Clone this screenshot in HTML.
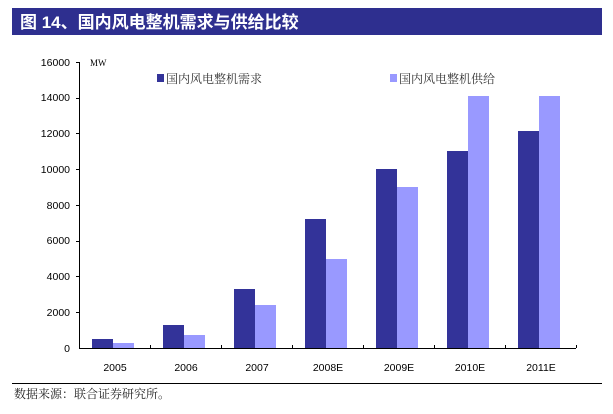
<!DOCTYPE html>
<html><head><meta charset="utf-8"><style>
body{margin:0;background:#fff;width:613px;height:409px;overflow:hidden}
</style></head><body>
<svg width="613" height="409" xmlns="http://www.w3.org/2000/svg" font-family="'Liberation Serif','Noto Serif CJK SC',serif">
<rect x="12" y="8" width="590" height="27" fill="#2e2f8f"/>
<text x="20" y="28" fill="#fff" font-size="17" font-weight="bold" font-family="'Liberation Sans','Noto Sans CJK SC',sans-serif">图 14、国内风电整机需求与供给比较</text>
<g font-size="10.5" fill="#000" text-anchor="end" font-family="'Liberation Sans',sans-serif">
<text x="70" y="66">16000</text><text x="70" y="101">14000</text><text x="70" y="137">12000</text>
<text x="70" y="173">10000</text><text x="70" y="209">8000</text><text x="70" y="244">6000</text>
<text x="70" y="280">4000</text><text x="70" y="316">2000</text><text x="70" y="352">0</text>
</g>
<text x="90" y="66" font-size="9">MW</text>
<g stroke="#000" stroke-width="1">
<line x1="79.5" y1="62" x2="79.5" y2="348"/>
<line x1="79" y1="348.5" x2="576" y2="348.5"/>
<line x1="76" y1="62.5" x2="79" y2="62.5"/><line x1="76" y1="98.5" x2="79" y2="98.5"/>
<line x1="76" y1="133.5" x2="79" y2="133.5"/><line x1="76" y1="169.5" x2="79" y2="169.5"/>
<line x1="76" y1="205.5" x2="79" y2="205.5"/><line x1="76" y1="241.5" x2="79" y2="241.5"/>
<line x1="76" y1="276.5" x2="79" y2="276.5"/><line x1="76" y1="312.5" x2="79" y2="312.5"/>
<line x1="150.5" y1="345" x2="150.5" y2="348"/><line x1="221.5" y1="345" x2="221.5" y2="348"/>
<line x1="292.5" y1="345" x2="292.5" y2="348"/><line x1="363.5" y1="345" x2="363.5" y2="348"/>
<line x1="434.5" y1="345" x2="434.5" y2="348"/><line x1="505.5" y1="345" x2="505.5" y2="348"/>
<line x1="576.5" y1="345" x2="576.5" y2="348"/>
<line x1="12" y1="383.5" x2="602" y2="383.5"/>
</g>
<g fill="#333399">
<rect x="92" y="339" width="21" height="9"/>
<rect x="163" y="325" width="21" height="23"/>
<rect x="234" y="289" width="21" height="59"/>
<rect x="305" y="219" width="21" height="129"/>
<rect x="376" y="169" width="21" height="179"/>
<rect x="447" y="151" width="21" height="197"/>
<rect x="518" y="131" width="21" height="217"/>
<rect x="157" y="74" width="7" height="8"/>
</g>
<g fill="#9999ff">
<rect x="113" y="343" width="21" height="5"/>
<rect x="184" y="335" width="21" height="13"/>
<rect x="255" y="305" width="21" height="43"/>
<rect x="326" y="259" width="21" height="89"/>
<rect x="397" y="187" width="21" height="161"/>
<rect x="468" y="96" width="21" height="252"/>
<rect x="539" y="96" width="21" height="252"/>
<rect x="390" y="74" width="7" height="8"/>
</g>
<g font-size="12" fill="#333">
<text x="166" y="83">国内风电整机需求</text>
<text x="399" y="83">国内风电整机供给</text>
</g>
<g font-size="10.5" text-anchor="middle" font-family="'Liberation Sans',sans-serif">
<text x="115" y="371">2005</text><text x="186" y="371">2006</text><text x="257" y="371">2007</text>
<text x="328" y="371">2008E</text><text x="399" y="371">2009E</text><text x="470" y="371">2010E</text><text x="541" y="371">2011E</text>
</g>
<text x="14" y="398" font-size="12" fill="#222">数据来源：联合证券研究所。</text>
</svg>
</body></html>
